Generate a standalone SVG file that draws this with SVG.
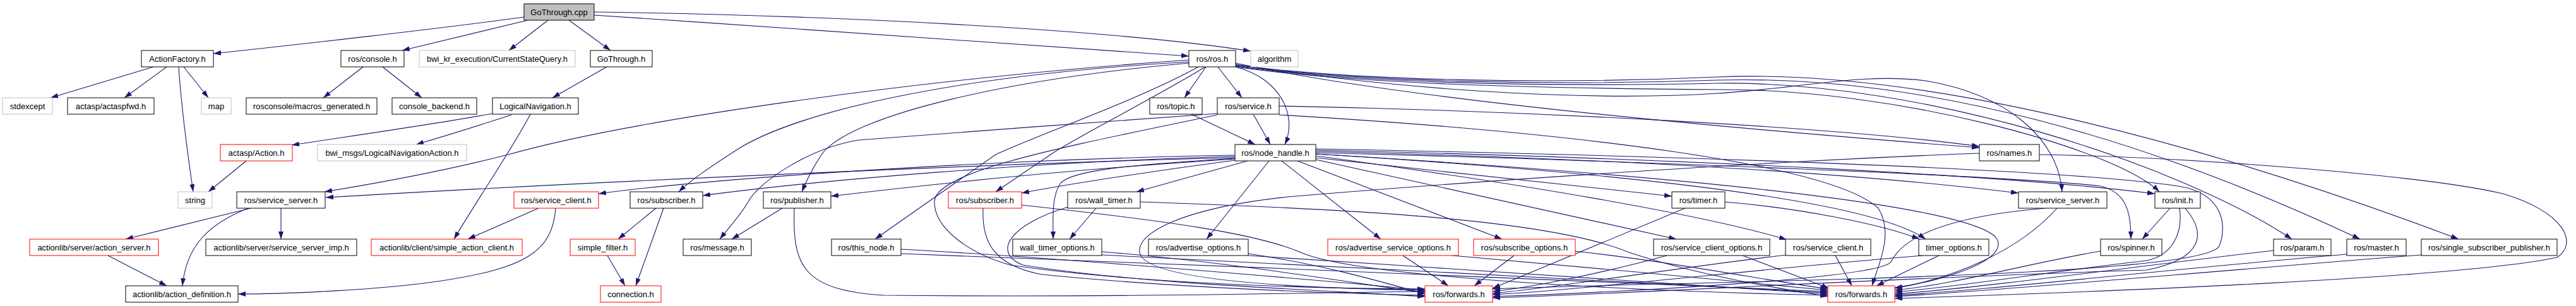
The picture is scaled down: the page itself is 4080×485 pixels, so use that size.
<svg xmlns="http://www.w3.org/2000/svg" width="4080" height="485" viewBox="0 0 4080 485">
<style>
.e{fill:none;stroke:#191970;stroke-width:1.1;marker-end:url(#a)}
rect{fill:#fff;stroke:#000;stroke-width:1}
.g rect{stroke:#bfbfbf}
.r rect{stroke:#ff0000}
#n0 rect{fill:#bfbfbf}
text{font-family:"Liberation Sans",Arial,sans-serif;font-size:13px;text-anchor:middle;fill:#000}
</style>
<defs>
<marker id="a" markerWidth="12" markerHeight="8" refX="12" refY="4" orient="auto" markerUnits="userSpaceOnUse"><path d="M0,0 L12,4 L0,8 z" fill="#191970"/></marker>
</defs>
<rect x="0" y="0" width="4080" height="485" style="fill:#fff;stroke:none"/>
<g id="edges">
<path class="e" d="M830,27 C700,45 460,72 338,85"/>
<path class="e" d="M836,32 C760,50 690,67 637,80"/>
<path class="e" d="M868,32 L806,80"/>
<path class="e" d="M901,32 L967,80"/>
<path class="e" d="M941,19 C1300,24 1750,45 1981,81"/>
<path class="e" d="M941,24 C1300,48 1700,75 1883,89"/>
<path class="e" d="M243,106 L80,155"/>
<path class="e" d="M264,106 L197,155"/>
<path class="e" d="M291,106 L330,155"/>
<path class="e" d="M283,106 C288,180 298,250 306,304"/>
<path class="e" d="M575,106 L512,155"/>
<path class="e" d="M606,106 L668,155"/>
<path class="e" d="M961,106 L875,155"/>
<path class="e" d="M780,180 C700,195 560,215 462,230"/>
<path class="e" d="M810,182 C740,205 690,220 659,229"/>
<path class="e" d="M840,181 C815,230 760,310 719,379"/>
<path class="e" d="M390,255 L330,304"/>
<path class="e" d="M1910,106 L1876,155"/>
<path class="e" d="M1929,106 L1967,155"/>
<path class="e" d="M1957,106 C2030,125 2055,185 2035,229"/>
<path class="e" d="M1887,181 L1988,229"/>
<path class="e" d="M1985,181 L2012,229"/>
<path class="e" d="M1883,95 C1450,125 1000,190 805,245 C700,272 600,290 514,304"/>
<path class="e" d="M1956,250 C1600,258 900,290 516,313"/>
<path class="e" d="M1956,246 C1600,252 1150,280 948,307"/>
<path class="e" d="M1883,98 C1500,120 1250,180 1160,242 C1120,268 1095,285 1075,304"/>
<path class="e" d="M1956,248 C1650,256 1300,285 1113,310"/>
<path class="e" d="M1883,100 C1600,125 1360,180 1305,240 C1290,260 1278,285 1270,304"/>
<path class="e" d="M1956,252 C1700,268 1450,295 1316,311"/>
<path class="e" d="M1898,106 C1800,160 1640,215 1577,245 L1386,379"/>
<path class="e" d="M1909,106 C1820,160 1700,220 1664,245 L1577,304"/>
<path class="e" d="M1956,254 C1850,268 1700,290 1618,306"/>
<path class="e" d="M1976,255 L1800,304"/>
<path class="e" d="M1956,251 C1780,262 1700,270 1680,290 C1665,310 1668,350 1668,379"/>
<path class="e" d="M1736,330 L1694,379"/>
<path class="e" d="M2010,255 L1911,379"/>
<path class="e" d="M2030,255 L2187,379"/>
<path class="e" d="M2055,255 L2379,379"/>
<path class="e" d="M2084,250 L2648,311"/>
<path class="e" d="M2084,253 L2655,379"/>
<path class="e" d="M2084,247 C2400,290 2700,340 2830,380"/>
<path class="e" d="M2732,320 C2850,330 2980,355 3040,379"/>
<path class="e" d="M2084,244 C2500,270 2950,310 3050,379"/>
<path class="e" d="M2084,240 C2500,250 2900,270 3197,306"/>
<path class="e" d="M2084,242 C2600,255 3200,280 3327,295 C3370,305 3375,340 3375,379"/>
<path class="e" d="M2084,238 C2700,252 3200,280 3413,307"/>
<path class="e" d="M3437,330 L3393,379"/>
<path class="e" d="M1957,106 C2150,134 2450,140 2720,142 C3000,140 3350,235 3420,304"/>
<path class="e" d="M1957,105 C2150,132 2450,138 2720,132 C3050,128 3450,260 3630,379"/>
<path class="e" d="M1957,104 C2150,130 2450,136 2720,127 C3050,118 3400,220 3738,379"/>
<path class="e" d="M1957,103 C2150,128 2450,134 2720,122 C3050,108 3500,230 3894,379"/>
<path class="e" d="M1957,102 C2200,140 2500,162 2720,148 C2850,140 2950,115 3050,128 C3180,150 3260,220 3266,304"/>
<path class="e" d="M2026,168 C2400,175 2900,200 3135,232"/>
<path class="e" d="M1957,100 C2050,120 2300,170 3135,234"/>
<path class="e" d="M2026,182 C2500,210 2900,260 2975,330 C3000,370 2975,420 2965,453"/>
<path class="e" d="M1928,182 C1700,230 1480,270 1480,320 C1480,360 1530,400 1600,420 C1800,450 2100,458 2257,458"/>
<path class="e" d="M1928,180 C1800,190 1500,210 1360,222 C1280,235 1200,290 1185,320 C1170,345 1155,360 1140,379"/>
<path class="e" d="M3135,243 C2800,255 2300,290 2040,312 C1870,330 1800,370 1805,400 C1810,440 2000,456 2257,460"/>
<path class="e" d="M3230,245 C3500,250 3850,280 3964,307 C4060,335 4085,385 4050,408 C3900,440 3350,462 3001,473"/>
<path class="e" d="M2084,244 C2600,275 3100,320 3160,375 C3190,410 3080,445 3001,456"/>
<path class="e" d="M2084,236 C2800,250 3300,272 3450,295 C3515,305 3530,350 3515,390 C3490,440 2700,445 2364,458"/>
<path class="e" d="M1427,395 C1700,410 2100,445 2257,460"/>
<path class="e" d="M1427,402 C1900,420 2600,448 2895,462"/>
<path class="e" d="M1745,399 C1950,415 2150,450 2257,464"/>
<path class="e" d="M1745,404 C2100,420 2600,450 2895,464"/>
<path class="e" d="M1977,402 C2100,420 2200,450 2257,466"/>
<path class="e" d="M1977,405 C2300,425 2700,455 2895,466"/>
<path class="e" d="M1557,330 C1555,380 1570,420 1650,435 C1850,455 2100,465 2257,468"/>
<path class="e" d="M1618,325 C1850,350 1990,370 2060,400 C2150,440 2600,462 2895,468"/>
<path class="e" d="M1692,328 C1600,355 1570,400 1620,420 C1800,450 2100,460 2257,470"/>
<path class="e" d="M1806,320 C2100,330 2450,345 2580,400 C2700,440 2850,462 2895,470"/>
<path class="e" d="M1258,330 C1255,420 1270,460 1400,468 C1800,472 2100,463 2257,462"/>
<path class="e" d="M2222,405 L2294,453"/>
<path class="e" d="M2398,405 L2335,453"/>
<path class="e" d="M2300,405 C2450,418 2750,445 2895,460"/>
<path class="e" d="M2494,398 C2650,415 2800,445 2895,458"/>
<path class="e" d="M2669,330 C2550,380 2430,430 2364,457"/>
<path class="e" d="M2640,405 C2550,430 2430,455 2364,462"/>
<path class="e" d="M2760,405 L2897,457"/>
<path class="e" d="M2830,404 C2650,425 2450,458 2364,465"/>
<path class="e" d="M2907,405 L2933,453"/>
<path class="e" d="M3045,405 C2800,425 2500,460 2364,467"/>
<path class="e" d="M3071,405 L2972,453"/>
<path class="e" d="M3240,330 C3060,345 3010,385 2995,415 C2980,440 2600,462 2364,470"/>
<path class="e" d="M3258,330 C3200,395 3100,440 3001,457"/>
<path class="e" d="M3327,398 C3200,420 3100,450 3001,460"/>
<path class="e" d="M3452,330 C3458,370 3440,405 3400,413 C3250,430 3100,455 3001,463"/>
<path class="e" d="M3461,330 C3495,370 3490,410 3400,428 C3000,440 2600,465 2364,472"/>
<path class="e" d="M3601,397 C3400,420 3150,455 3001,466"/>
<path class="e" d="M3717,403 C3400,430 3150,460 3001,468"/>
<path class="e" d="M3835,404 C3500,430 3150,462 3001,470"/>
<path class="e" d="M397,330 L199,379"/>
<path class="e" d="M445,330 L445,379"/>
<path class="e" d="M393,330 C330,355 295,390 289,453"/>
<path class="e" d="M171,405 L264,453"/>
<path class="e" d="M853,330 L741,379"/>
<path class="e" d="M880,330 C875,400 830,425 700,445 C600,460 450,466 377,466"/>
<path class="e" d="M1039,330 L979,379"/>
<path class="e" d="M1051,330 L1007,453"/>
<path class="e" d="M962,405 L990,453"/>
<path class="e" d="M1239,330 L1159,379"/>
</g>
<g id="n0"><rect x="830" y="6" width="111" height="26"/><text x="885.5" y="24">GoThrough.cpp</text></g>
<g id="n1"><rect x="224" y="80" width="114" height="26"/><text x="281" y="98">ActionFactory.h</text></g>
<g id="n2"><rect x="540" y="80" width="100" height="26"/><text x="590" y="98">ros/console.h</text></g>
<g id="n3" class="g"><rect x="664" y="80" width="247" height="26"/><text x="787.5" y="98">bwi_kr_execution/CurrentStateQuery.h</text></g>
<g id="n4"><rect x="935" y="80" width="98" height="26"/><text x="984" y="98">GoThrough.h</text></g>
<g id="n5"><rect x="1883" y="80" width="74" height="26"/><text x="1920" y="98">ros/ros.h</text></g>
<g id="n6" class="g"><rect x="1981" y="80" width="75" height="26"/><text x="2018.5" y="98">algorithm</text></g>
<g id="n7" class="g"><rect x="4" y="155" width="79" height="26"/><text x="43.5" y="173">stdexcept</text></g>
<g id="n8"><rect x="107" y="155" width="137" height="26"/><text x="175.5" y="173">actasp/actaspfwd.h</text></g>
<g id="n9" class="g"><rect x="319" y="155" width="47" height="26"/><text x="342.5" y="173">map</text></g>
<g id="n10"><rect x="390" y="155" width="207" height="26"/><text x="493.5" y="173">rosconsole/macros_generated.h</text></g>
<g id="n11"><rect x="621" y="155" width="134" height="26"/><text x="688" y="173">console_backend.h</text></g>
<g id="n12"><rect x="780" y="155" width="136" height="26"/><text x="848" y="173">LogicalNavigation.h</text></g>
<g id="n13"><rect x="1821" y="155" width="83" height="26"/><text x="1862.5" y="173">ros/topic.h</text></g>
<g id="n14"><rect x="1928" y="155" width="98" height="26"/><text x="1977" y="173">ros/service.h</text></g>
<g id="n15" class="r"><rect x="349" y="229" width="114" height="26"/><text x="406" y="247">actasp/Action.h</text></g>
<g id="n16" class="g"><rect x="503" y="229" width="236" height="26"/><text x="621" y="247">bwi_msgs/LogicalNavigationAction.h</text></g>
<g id="n17"><rect x="1956" y="229" width="128" height="26"/><text x="2020" y="247">ros/node_handle.h</text></g>
<g id="n18"><rect x="3135" y="229" width="95" height="26"/><text x="3182.5" y="247">ros/names.h</text></g>
<g id="n19" class="g"><rect x="282" y="304" width="54" height="26"/><text x="309" y="322">string</text></g>
<g id="n20"><rect x="375" y="304" width="140" height="26"/><text x="445" y="322">ros/service_server.h</text></g>
<g id="n21" class="r"><rect x="814" y="304" width="134" height="26"/><text x="881" y="322">ros/service_client.h</text></g>
<g id="n22"><rect x="998" y="304" width="115" height="26"/><text x="1055.5" y="322">ros/subscriber.h</text></g>
<g id="n23"><rect x="1209" y="304" width="107" height="26"/><text x="1262.5" y="322">ros/publisher.h</text></g>
<g id="n24" class="r"><rect x="1502" y="304" width="116" height="26"/><text x="1560" y="322">ros/subscriber.h</text></g>
<g id="n25"><rect x="1691" y="304" width="115" height="26"/><text x="1748.5" y="322">ros/wall_timer.h</text></g>
<g id="n26"><rect x="2648" y="304" width="84" height="26"/><text x="2690" y="322">ros/timer.h</text></g>
<g id="n27"><rect x="3197" y="304" width="140" height="26"/><text x="3267" y="322">ros/service_server.h</text></g>
<g id="n28"><rect x="3413" y="304" width="72" height="26"/><text x="3449" y="322">ros/init.h</text></g>
<g id="n29" class="r"><rect x="47" y="379" width="204" height="26"/><text x="149" y="397">actionlib/server/action_server.h</text></g>
<g id="n30"><rect x="326" y="379" width="239" height="26"/><text x="445.5" y="397">actionlib/server/service_server_imp.h</text></g>
<g id="n31" class="r"><rect x="588" y="379" width="239" height="26"/><text x="707.5" y="397">actionlib/client/simple_action_client.h</text></g>
<g id="n32" class="r"><rect x="903" y="379" width="103" height="26"/><text x="954.5" y="397">simple_filter.h</text></g>
<g id="n33"><rect x="1082" y="379" width="108" height="26"/><text x="1136" y="397">ros/message.h</text></g>
<g id="n34"><rect x="1317" y="379" width="110" height="26"/><text x="1372" y="397">ros/this_node.h</text></g>
<g id="n35"><rect x="1604" y="379" width="141" height="26"/><text x="1674.5" y="397">wall_timer_options.h</text></g>
<g id="n36"><rect x="1819" y="379" width="158" height="26"/><text x="1898" y="397">ros/advertise_options.h</text></g>
<g id="n37" class="r"><rect x="2103" y="379" width="207" height="26"/><text x="2206.5" y="397">ros/advertise_service_options.h</text></g>
<g id="n38" class="r"><rect x="2334" y="379" width="161" height="26"/><text x="2414.5" y="397">ros/subscribe_options.h</text></g>
<g id="n39"><rect x="2619" y="379" width="184" height="26"/><text x="2711" y="397">ros/service_client_options.h</text></g>
<g id="n40"><rect x="2828" y="379" width="135" height="26"/><text x="2895.5" y="397">ros/service_client.h</text></g>
<g id="n41"><rect x="3039" y="379" width="111" height="26"/><text x="3094.5" y="397">timer_options.h</text></g>
<g id="n42"><rect x="3327" y="379" width="97" height="26"/><text x="3375.5" y="397">ros/spinner.h</text></g>
<g id="n43"><rect x="3601" y="379" width="91" height="26"/><text x="3646.5" y="397">ros/param.h</text></g>
<g id="n44"><rect x="3717" y="379" width="94" height="26"/><text x="3764" y="397">ros/master.h</text></g>
<g id="n45"><rect x="3835" y="379" width="215" height="26"/><text x="3942.5" y="397">ros/single_subscriber_publisher.h</text></g>
<g id="n46"><rect x="199" y="453" width="178" height="26"/><text x="288" y="471">actionlib/action_definition.h</text></g>
<g id="n47" class="r"><rect x="951" y="453" width="96" height="26"/><text x="999" y="471">connection.h</text></g>
<g id="n48" class="r"><rect x="2257" y="453" width="107" height="26"/><text x="2310.5" y="471">ros/forwards.h</text></g>
<g id="n49" class="r"><rect x="2895" y="453" width="106" height="26"/><text x="2948" y="471">ros/forwards.h</text></g>
</svg>
